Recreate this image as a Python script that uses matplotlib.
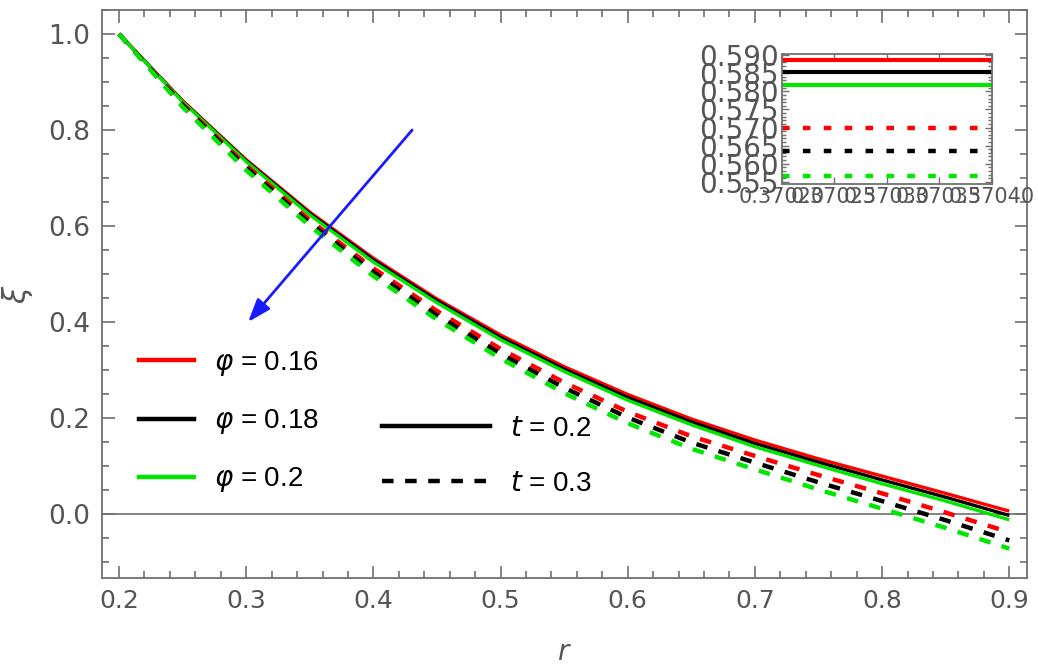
import matplotlib
matplotlib.use('Agg')
import matplotlib.pyplot as plt
from matplotlib.ticker import MultipleLocator, FixedLocator
from matplotlib.lines import Line2D

# data
r = [0.2, 0.25, 0.3, 0.35, 0.4, 0.45, 0.5, 0.55, 0.6, 0.65, 0.7, 0.75, 0.8, 0.85, 0.9]

# t = 0.2 (solid)
xi_016_t02 = [1.000, 0.861, 0.738, 0.629, 0.533, 0.448, 0.373, 0.307, 0.249, 0.198, 0.154, 0.115, 0.079, 0.043, 0.006]
xi_018_t02 = [1.000, 0.860, 0.736, 0.626, 0.529, 0.444, 0.368, 0.302, 0.243, 0.192, 0.147, 0.108, 0.071, 0.035, -0.003]
xi_020_t02 = [1.000, 0.859, 0.734, 0.623, 0.525, 0.440, 0.363, 0.297, 0.237, 0.186, 0.140, 0.101, 0.063, 0.027, -0.012]

# t = 0.3 (dashed)
xi_016_t03 = [1.000, 0.854, 0.726, 0.612, 0.512, 0.423, 0.344, 0.274, 0.213, 0.162, 0.121, 0.081, 0.043, 0.003, -0.038]
xi_018_t03 = [1.000, 0.851, 0.721, 0.606, 0.504, 0.414, 0.334, 0.263, 0.201, 0.149, 0.107, 0.066, 0.027, -0.013, -0.055]
xi_020_t03 = [1.000, 0.848, 0.716, 0.600, 0.496, 0.405, 0.324, 0.252, 0.189, 0.136, 0.093, 0.051, 0.011, -0.029, -0.072]

# inset (zoom near r = 0.3702)
inset_r = [0.37020, 0.37040]
inset_016_t02 = [0.5886, 0.5886]
inset_018_t02 = [0.5852, 0.5852]
inset_020_t02 = [0.5817, 0.5817]
inset_016_t03 = [0.5700, 0.5700]
inset_018_t03 = [0.5634, 0.5634]
inset_020_t03 = [0.5566, 0.5566]
inset_xticks = [0.37020, 0.37025, 0.37030, 0.37035, 0.37040]
inset_xlabels = ['0.37020', '0.37025', '0.37030', '0.37035', '0.37040']

phis = ['0.16', '0.18', '0.2']
colors = ['#ff0000', '#000000', '#00e600']

tick_font = ['Liberation Sans Narrow', 'DejaVu Sans']
gray = '#555555'
framec = '#707070'

fig = plt.figure(figsize=(10.38, 6.70), dpi=100)
ax = fig.add_axes([0.098, 0.1373, 0.8915, 0.8478])

ax.axhline(0, color='#7a7a7a', lw=1.3, zorder=1)

solid = [xi_016_t02, xi_018_t02, xi_020_t02]
dashed = [xi_016_t03, xi_018_t03, xi_020_t03]
for ys, c in zip(solid, colors):
    ax.plot(r, ys, color=c, lw=2.4, solid_capstyle='butt', zorder=3)
for ys, c in zip(dashed, colors):
    ax.plot(r, ys, color=c, lw=3.2, linestyle=(0, (2.6, 2.6)), dash_capstyle='butt', zorder=3)

ax.set_xlim(0.1864, 0.914)
ax.set_ylim(-0.1333, 1.05)
ax.xaxis.set_major_locator(MultipleLocator(0.1))
ax.xaxis.set_minor_locator(MultipleLocator(0.02))
ax.yaxis.set_major_locator(MultipleLocator(0.2))
ax.yaxis.set_minor_locator(MultipleLocator(0.05))
ax.tick_params(which='both', direction='in', top=True, right=True, color=framec, width=1.2)
ax.tick_params(which='major', length=9, labelsize=18, labelcolor=gray, pad=8)
ax.tick_params(which='minor', length=5)
ax.set_xticks([0.2, 0.3, 0.4, 0.5, 0.6, 0.7, 0.8, 0.9])
ax.set_xticklabels(['0.2', '0.3', '0.4', '0.5', '0.6', '0.7', '0.8', '0.9'], family=tick_font)
ax.set_yticks([0.0, 0.2, 0.4, 0.6, 0.8, 1.0])
ax.set_yticklabels(['0.0', '0.2', '0.4', '0.6', '0.8', '1.0'], family=tick_font, size=19)
for s in ax.spines.values():
    s.set_color(framec)
    s.set_linewidth(1.3)

ax.set_xlabel('$r$', fontsize=20, color=gray, labelpad=18)
ax.set_ylabel(r'$\xi$', fontsize=22, color=gray, labelpad=10)

# blue arrow
ax.annotate('', xy=(0.3015, 0.40), xytext=(0.4305, 0.80),
            arrowprops=dict(arrowstyle='-|>,head_length=1.4,head_width=0.5', color='#1a1aff', lw=2,
                            shrinkA=0, shrinkB=0),
            zorder=5)

# legends
leg_font = {'family': ['Liberation Sans', 'DejaVu Sans'], 'size': 20}
h1 = [Line2D([], [], color=c, lw=3.2) for c in colors]
l1 = [r'$\varphi$ = ' + p for p in phis]
leg1 = ax.legend(h1, l1, loc='upper left', bbox_to_anchor=(0.013, 0.447), frameon=False,
                 handlelength=2.0, handletextpad=0.7, labelspacing=1.05, prop=leg_font)
ax.add_artist(leg1)
h2 = [Line2D([], [], color='k', lw=3.2),
      Line2D([], [], color='k', lw=3.2, linestyle=(0, (2.6, 2.6)))]
l2 = ['$t$ = 0.2', '$t$ = 0.3']
ax.legend(h2, l2, loc='upper left', bbox_to_anchor=(0.276, 0.33), frameon=False,
          handlelength=3.9, handletextpad=0.7, labelspacing=1.05, prop=leg_font)

# inset
ins = fig.add_axes([0.753, 0.7254, 0.2023, 0.194])
for ys, c in zip([inset_016_t02, inset_018_t02, inset_020_t02], colors):
    ins.plot(inset_r, ys, color=c, lw=3.0, solid_capstyle='butt')
for ys, c in zip([inset_016_t03, inset_018_t03, inset_020_t03], colors):
    ins.plot(inset_r, ys, color=c, lw=3.2, linestyle=(0, (1.7, 3.0)), dash_capstyle='butt')
ins.set_xlim(inset_r[0], inset_r[1])
ins.set_ylim(0.5544, 0.5903)
ins.yaxis.set_minor_locator(MultipleLocator(0.001))
ins.xaxis.set_major_locator(FixedLocator(inset_xticks))
ins.set_xticklabels(inset_xlabels, family=tick_font, size=15)
ins.set_yticks([0.555, 0.560, 0.565, 0.570, 0.575, 0.580, 0.585, 0.590])
ins.set_yticklabels(['0.555', '0.560', '0.565', '0.570', '0.575', '0.580', '0.585', '0.590'],
                    family=tick_font, size=20)
ins.tick_params(which='both', direction='in', top=True, right=True, color=framec, width=1.0)
ins.tick_params(which='major', length=5, labelcolor=gray, pad=2)
ins.tick_params(which='minor', length=3)
for s in ins.spines.values():
    s.set_color(framec)
    s.set_linewidth(1.3)

fig.savefig('out.png', dpi=100)
